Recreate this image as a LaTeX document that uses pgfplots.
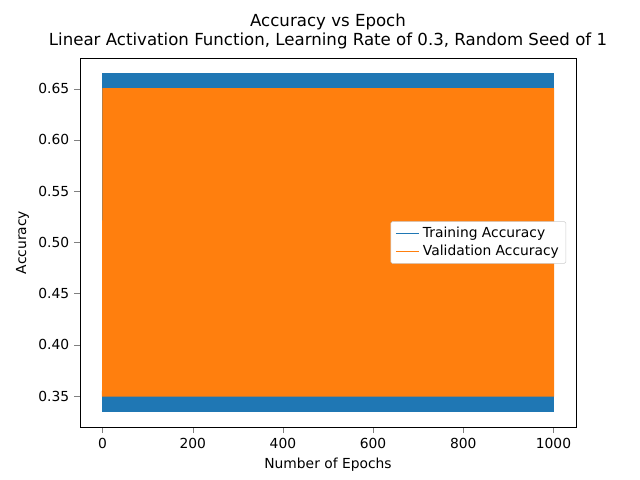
\documentclass[border=0pt]{standalone}
\usepackage{pgfplots}
\pgfplotsset{compat=1.18}
\usepackage{fontspec}
\setmainfont{DejaVu Sans}
\definecolor{tblue}{HTML}{1F77B4}
\definecolor{torange}{HTML}{FF7F0E}
\begin{document}
\fontsize{10}{12}\selectfont
\begin{tikzpicture}
\path[use as bounding box] (0,0) rectangle (6.4in,4.8in);
\begin{axis}[at={(0.8in,0.53in)}, anchor=south west, scale only axis,
 width=4.96in, height=3.69in,
 xmin=-50, xmax=1050, ymin=0.3197, ymax=0.680,
 xtick={0,200,400,600,800,1000},
 xticklabel style={/pgf/number format/.cd,1000 sep={}},
 ytick={0.35,0.40,0.45,0.50,0.55,0.60,0.65},
 yticklabel style={/pgf/number format/.cd,fixed,fixed zerofill,precision=2},
 /pgf/number format/assume math mode=true,
 tick align=outside, tick pos=left,
 tick label style={font=\fontsize{10}{12}\selectfont},
 label style={font=\fontsize{10}{12}\selectfont},
 xlabel={Number of Epochs}, ylabel={Accuracy},
 title={Accuracy vs Epoch\\Linear Activation Function, Learning Rate of 0.3, Random Seed of 1},
 title style={align=center, font=\fontsize{12}{14}\selectfont, yshift=-3pt},
 legend style={at={(0.98,0.5)}, anchor=east, draw=black!20, rounded corners=1pt, font=\fontsize{10}{12}\selectfont},
 legend cell align=left,
]
\addplot[draw=tblue, fill=tblue, line width=0.8pt, forget plot] coordinates {(0,0.335)(1000,0.335)(1000,0.665)(0,0.665)} -- cycle;
\addplot[draw=torange, fill=torange, line width=0.8pt, forget plot] coordinates {(0,0.35)(1000,0.35)(1000,0.65)(1,0.65)(0,0.35)} -- cycle;
\addlegendimage{color=tblue, line width=1.1pt}
\addlegendentry{Training Accuracy}
\addlegendimage{color=torange, line width=1.1pt}
\addlegendentry{Validation Accuracy}
\end{axis}
\end{tikzpicture}
\end{document}
